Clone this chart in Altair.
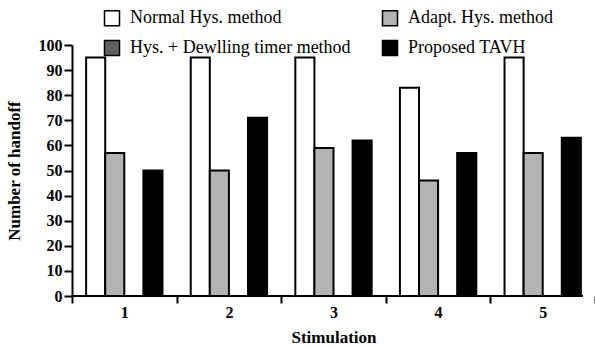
import altair as alt
import pandas as pd

groups = ["1", "2", "3", "4", "5"]
series = ["Normal Hys. method", "Adapt. Hys. method",
          "Hys. + Dewlling timer method", "Proposed TAVH"]
normal = [95, 95, 95, 83, 95]
adapt = [57, 50, 59, 46, 57]
dwell = [None, None, None, None, None]
proposed = [50, 71, 62, 57, 63]
# legend order (filled column by column) and matching colours
legend_order = ["Normal Hys. method", "Hys. + Dewlling timer method",
                "Adapt. Hys. method", "Proposed TAVH"]
legend_colors = ["#ffffff", "#606060", "#b3b3b3", "#000000"]
y_ticks = [0, 10, 20, 30, 40, 50, 60, 70, 80, 90, 100]

rows = []
for s, vals in zip(series, [normal, adapt, dwell, proposed]):
    for g, v in zip(groups, vals):
        rows.append({"group": g, "series": s, "value": v})
df = pd.DataFrame(rows)

FONT = "'Liberation Serif', 'Times New Roman', 'DejaVu Serif', serif"
W, H = 523, 251

bars = alt.Chart(df).mark_bar(stroke="black", strokeWidth=2).encode(
    x=alt.X("group:N", sort=groups,
            scale=alt.Scale(paddingInner=0, paddingOuter=0),
            axis=alt.Axis(title="Stimulation", labelAngle=0, domain=False,
                          tickBand="extent", tickSize=7, tickWidth=2, tickColor="black",
                          labelFont=FONT, labelFontSize=16, labelFontWeight="bold",
                          labelColor="black", labelPadding=1,
                          titleFont=FONT, titleFontSize=17, titleFontWeight="bold",
                          titleColor="black", titleY=41, titleBaseline="middle")),
    xOffset=alt.XOffset("series:N",
                        scale=alt.Scale(domain=series, paddingInner=0, paddingOuter=0.74)),
    y=alt.Y("value:Q",
            scale=alt.Scale(domain=[0, 100], nice=False),
            axis=alt.Axis(title="Number of handoff", values=y_ticks, grid=False,
                          labelOverlap=False,
                          domainWidth=2, domainColor="black",
                          tickSize=8, tickWidth=2, tickColor="black",
                          labelFont=FONT, labelFontSize=16, labelFontWeight="bold",
                          labelColor="black", labelPadding=2,
                          titleFont=FONT, titleFontSize=17, titleFontWeight="bold",
                          titleColor="black", titleX=-58, titleY=125.5,
                          titleBaseline="middle", titleAlign="center")),
    fill=alt.Fill("series:N",
                  scale=alt.Scale(domain=legend_order, range=legend_colors),
                  legend=alt.Legend(title=None, orient="none", legendX=31, legendY=-36,
                                    columns=2, columnPadding=28, rowPadding=8,
                                    symbolType="square", symbolSize=225,
                                    symbolStrokeColor="black", symbolStrokeWidth=1.5,
                                    labelFont=FONT, labelFontSize=18, labelColor="black",
                                    labelOffset=9, padding=0, labelLimit=400)),
)

# x-axis baseline (decoration), ends short of the right edge as in the reference
axis_line = alt.Chart(pd.DataFrame({"z": [0]})).mark_rule(
    color="black", strokeWidth=2).encode(
    x=alt.value(0), x2=alt.value(511), y=alt.value(H))

chart = alt.layer(bars, axis_line).properties(
    width=W, height=H,
    autosize=alt.AutoSizeParams(type="none"),
    padding={"left": 72, "top": 45, "right": 0, "bottom": 51},
    background="white",
).configure_view(stroke=None)

chart.save("out.html", embed_options={"renderer": "svg", "actions": False})
